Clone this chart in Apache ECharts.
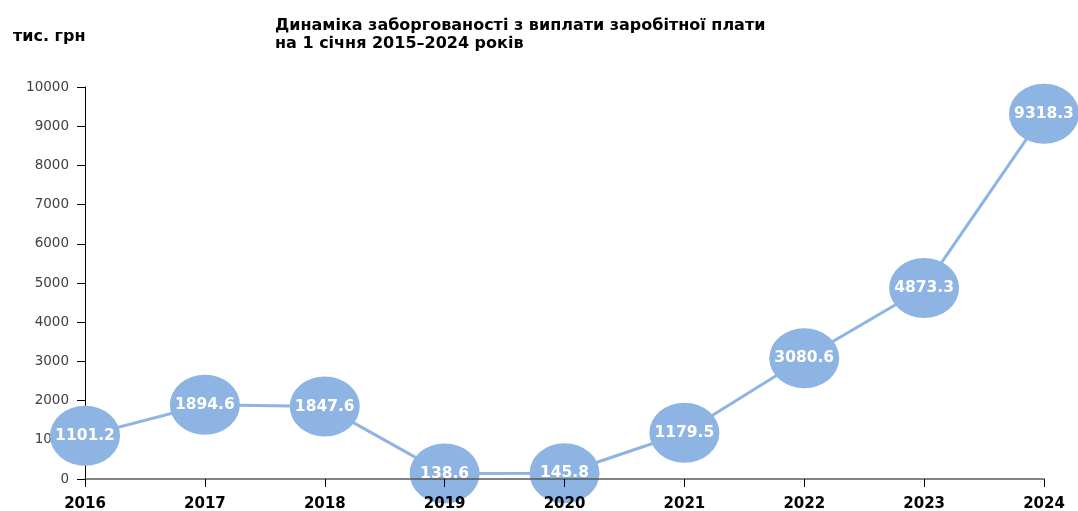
<!DOCTYPE html>
<html>
<head>
<meta charset="utf-8">
<script src="https://cdn.jsdelivr.net/npm/echarts@6/dist/echarts.min.js"></script>
<style>
  html, body { margin: 0; padding: 0; background: #fff; }
  #main { width: 1078px; height: 511px; }
</style>
</head>
<body>
<div id="main"></div>
<script>
  // роки та значення заборгованості, тис. грн
  var years = ['2016', '2017', '2018', '2019', '2020', '2021', '2022', '2023', '2024'];
  var debt = [1101.2, 1894.6, 1847.6, 138.6, 145.8, 1179.5, 3080.6, 4873.3, 9318.3];

  var myChart = echarts.init(document.getElementById('main'));

  var option = {
    animation: false,
    title: [
      {
        text: 'Динаміка заборгованості з виплати заробітної плати\nна 1 січня 2015–2024 років',
        left: 270,
        top: 12,
        textStyle: {
          fontFamily: 'DejaVu Sans',
          fontWeight: 'bold',
          fontSize: 16,
          lineHeight: 18,
          color: '#000'
        }
      },
      {
        text: 'тис. грн',
        left: 8,
        top: 24,
        textStyle: {
          fontFamily: 'DejaVu Sans',
          fontWeight: 'bold',
          fontSize: 16,
          color: '#000'
        }
      }
    ],
    grid: {
      left: 85,
      right: 34,
      top: 87,
      bottom: 32,
      containLabel: false,
      outerBoundsMode: 'none'
    },
    xAxis: {
      type: 'category',
      boundaryGap: false,
      data: years,
      z: 10,
      axisLine: { lineStyle: { color: '#595959', width: 1.5 } },
      axisTick: { alignWithLabel: true, length: 8, lineStyle: { color: '#000' } },
      axisLabel: {
        fontFamily: 'DejaVu Sans',
        fontWeight: 'bold',
        fontSize: 15,
        color: '#000',
        margin: 18
      }
    },
    yAxis: {
      type: 'value',
      min: 0,
      max: 10000,
      interval: 1000,
      axisLine: { show: true, lineStyle: { color: '#000' } },
      axisTick: { show: true, length: 8, lineStyle: { color: '#000' } },
      splitLine: { show: false },
      axisLabel: {
        fontFamily: 'DejaVu Sans',
        fontSize: 13.5,
        color: '#404040',
        margin: 16,
        formatter: function (v) { return String(v); }
      }
    },
    series: [
      {
        type: 'line',
        data: debt,
        symbol: 'circle',
        symbolSize: [70, 60],
        lineStyle: { color: '#8EB4E3', width: 3 },
        itemStyle: { color: '#8EB4E3' },
        label: {
          show: true,
          position: 'inside',
          color: '#fff',
          fontFamily: 'DejaVu Sans',
          fontWeight: 'bold',
          fontSize: 15.5,
          formatter: function (p) { return p.value.toFixed(1); }
        },
        z: 3
      }
    ]
  };

  myChart.setOption(option);
</script>
</body>
</html>
